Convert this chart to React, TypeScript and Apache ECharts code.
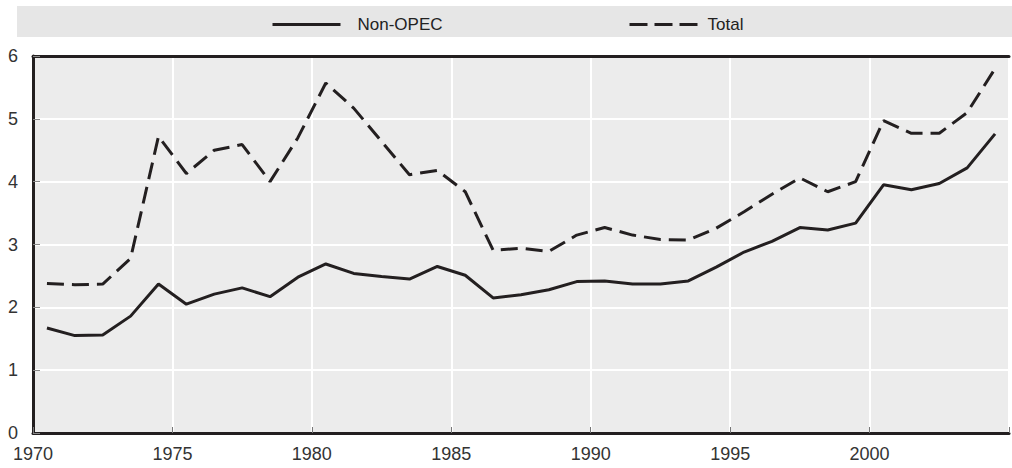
import React, { useEffect, useRef } from "react";
import * as echarts from "echarts";

const years = [
  1970, 1971, 1972, 1973, 1974, 1975, 1976, 1977, 1978, 1979,
  1980, 1981, 1982, 1983, 1984, 1985, 1986, 1987, 1988, 1989,
  1990, 1991, 1992, 1993, 1994, 1995, 1996, 1997, 1998, 1999,
  2000, 2001, 2002, 2003, 2004,
];
const nonOpec = [
  1.67, 1.55, 1.56, 1.86, 2.37, 2.05, 2.21, 2.31, 2.17, 2.48,
  2.69, 2.54, 2.49, 2.45, 2.65, 2.51, 2.15, 2.2, 2.28, 2.41,
  2.42, 2.37, 2.37, 2.42, 2.64, 2.88, 3.05, 3.27, 3.23, 3.34,
  3.95, 3.87, 3.97, 4.22, 4.76,
];
const total = [
  2.38, 2.36, 2.37, 2.78, 4.72, 4.13, 4.5, 4.59, 4.0, 4.7,
  5.57, 5.17, 4.64, 4.11, 4.18, 3.84, 2.91, 2.94, 2.89, 3.15,
  3.27, 3.15, 3.08, 3.07, 3.26, 3.52, 3.8, 4.06, 3.84, 4.0,
  4.97, 4.77, 4.77, 5.1, 5.8,
];
const yTicks = [0, 1, 2, 3, 4, 5, 6];

const FONT = "'Liberation Sans Narrow', 'Liberation Sans', Arial, sans-serif";
const INK = "#231f20";

export default function App() {
  const ref = useRef<HTMLDivElement>(null);
  useEffect(() => {
    document.body.style.margin = "0";
    if (!ref.current) return;
    const chart = echarts.init(ref.current, undefined, { renderer: "svg" });
    const toPts = (vals: number[]) => years.map((y, i) => [y + 0.5, vals[i]]);
    const legendCommon = {
      top: 11,
      itemWidth: 68,
      itemHeight: 14,
      itemStyle: { opacity: 0 },
    };
    chart.setOption({
      animation: false,
      graphic: [
        {
          type: "rect",
          z: 0,
          shape: { x: 17, y: 6, width: 1000, height: 31 },
          style: { fill: "#e6e6e6" },
        },
      ],
      legend: [
        {
          ...legendCommon,
          data: ["Non-OPEC"],
          left: 266,
          lineStyle: { width: 3 },
          textStyle: { fontFamily: FONT, fontSize: 17, color: "#222", padding: [0, 0, 0, 12] },
        },
        {
          ...legendCommon,
          data: ["Total"],
          left: 623,
          lineStyle: { width: 3, type: [18, 7] },
          textStyle: { fontFamily: FONT, fontSize: 17, color: "#222", padding: [0, 0, 0, 5] },
        },
      ],
      grid: {
        left: 33,
        right: -5,
        top: 56,
        bottom: 35,
        show: true,
        backgroundColor: "#ececec",
        borderWidth: 0,
      },
      xAxis: [
        {
          type: "value",
          min: 1970,
          max: 2005,
          interval: 5,
          axisLine: { show: true, lineStyle: { color: INK, width: 3 } },
          axisTick: { show: true, inside: true, length: 6, lineStyle: { color: "#777", width: 1 } },
          axisLabel: {
            fontFamily: FONT,
            fontSize: 18,
            color: "#333",
            margin: 12,
            formatter: (v: number) => (v % 5 === 0 && v < 2005 ? String(v) : ""),
          },
          splitLine: { show: true, lineStyle: { color: "#ffffff", width: 2 } },
        },
        {
          type: "value",
          position: "top",
          min: 1970,
          max: 2005,
          interval: 5,
          axisLine: { show: true, lineStyle: { color: INK, width: 3 } },
          axisTick: { show: false },
          axisLabel: { show: false },
          splitLine: { show: false },
        },
      ],
      yAxis: {
        type: "value",
        min: yTicks[0],
        max: yTicks[yTicks.length - 1],
        interval: 1,
        axisLine: { show: true, lineStyle: { color: INK, width: 3 } },
        axisTick: { show: true, inside: true, length: 7, lineStyle: { color: "#888", width: 1 } },
        axisLabel: { fontFamily: FONT, fontSize: 18, color: "#333", margin: 15 },
        splitLine: { show: true, lineStyle: { color: "#ffffff", width: 2 } },
      },
      series: [
        {
          name: "Non-OPEC",
          type: "line",
          data: toPts(nonOpec),
          symbol: "none",
          lineStyle: { color: INK, width: 3 },
          itemStyle: { color: INK },
          z: 3,
        },
        {
          name: "Total",
          type: "line",
          data: toPts(total),
          symbol: "none",
          lineStyle: { color: INK, width: 3, type: [17, 8] },
          itemStyle: { color: INK },
          z: 3,
        },
      ],
    });
    return () => chart.dispose();
  }, []);
  return <div ref={ref} style={{ width: 1012, height: 468 }} />;
}
